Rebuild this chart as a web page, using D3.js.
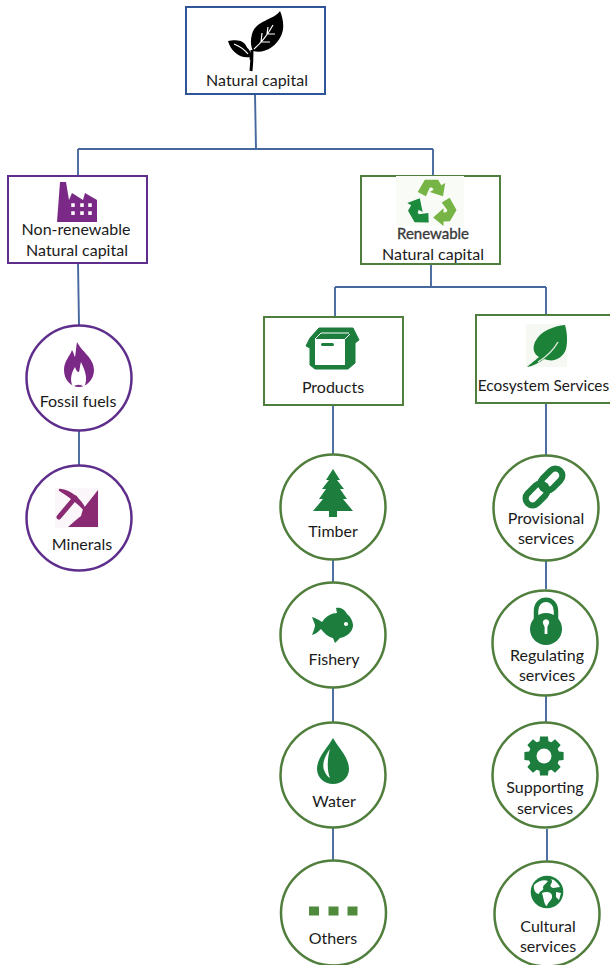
<!DOCTYPE html>
<html><head><meta charset="utf-8">
<style>html,body{margin:0;padding:0;background:#fff;overflow:hidden}svg{display:block}text{font-family:Lato,"Open Sans",sans-serif;font-size:16px;fill:#1a1a1a;text-anchor:middle}</style>
<script src="https://cdn.jsdelivr.net/npm/d3@7"></script></head><body>
<script>
// ---- content ----
const rootLabels=["Natural capital"];
const branchLabels=[["Non-renewable","Natural capital"],["Renewable","Natural capital"]];
const groupLabels=[["Products"],["Ecosystem Services"]];
const fossilSide=[["Fossil fuels"],["Minerals"]];
const productItems=[["Timber"],["Fishery"],["Water"],["Others"]];
const serviceItems=[["Provisional","services"],["Regulating","services"],["Supporting","services"],["Cultural","services"]];

// ---- layout (separate from content) ----
const C={blue:"#2f5597",line:"#46689f",purple:"#5f2f8c",green:"#507e3c",icon:"#1a7d3d",lime:"#76b544",plum:"#7a2a86",mag:"#8a2a72"};
const boxW=139;
const boxes=[
 {l:rootLabels,x:186,y:7,h:87,c:C.blue,ic:"leaf",ix:255,iy:40,t:[[257,86]]},
 {l:branchLabels[0],x:8,y:176,h:87,c:C.purple,ic:"factory",ix:77,iy:202,t:[[76,235],[77,256]]},
 {l:branchLabels[1],x:361,y:176,h:88,c:C.green,ic:"recycle",ix:432,iy:204,t:[[433,239,"#3a3a3a",15,.35],[433,260]]},
 {l:groupLabels[0],x:264,y:317,h:88,c:C.green,ic:"box",ix:333,iy:348,t:[[333,393]]},
 {l:groupLabels[1],x:476,y:315,h:88,c:C.green,ic:"greenleaf",ix:546,iy:345,t:[[543.5,391,"#1a1a1a",15.4]]}
];
const circles=[
 {l:fossilSide[0],cx:79,cy:378,c:C.purple,ic:"flame",ix:79,iy:365,t:[[78,407]]},
 {l:fossilSide[1],cx:79,cy:518,c:C.purple,ic:"minerals",ix:77,iy:508,t:[[82,550]]},
 {l:productItems[0],cx:333,cy:507,c:C.green,ic:"tree",ix:333,iy:493,t:[[333,537]]},
 {l:productItems[1],cx:333,cy:635,c:C.green,ic:"fish",ix:333,iy:625,t:[[334,665]]},
 {l:productItems[2],cx:333,cy:775,c:C.green,ic:"drop",ix:333,iy:761,t:[[334,807]]},
 {l:productItems[3],cx:333.5,cy:913,c:C.green,ic:"dots",ix:333.5,iy:911,t:[[333,944]]},
 {l:serviceItems[0],cx:546,cy:508,c:C.green,ic:"chain",ix:544,iy:487,t:[[546,524],[546,544]]},
 {l:serviceItems[1],cx:545,cy:643,c:C.green,ic:"lock",ix:546,iy:622,t:[[547,661],[547,681]]},
 {l:serviceItems[2],cx:545,cy:775,c:C.green,ic:"gear",ix:544,iy:756,t:[[545,793],[545,814]]},
 {l:serviceItems[3],cx:547,cy:914,c:C.green,ic:"globe",ix:547,iy:892,t:[[548,932],[548,952]]}
];
const connectors=[
 [[255,94],[256,149]],[[78,149],[433,149]],[[78,149],[78,176]],[[433,149],[433,176]],
 [[78,263],[79,325]],[[79,431],[79,465]],
 [[431,264],[431,287]],[[335,287],[546,287]],[[335,287],[335,317]],[[546,287],[546,315]],
 [[333,405],[333,454]],[[333,560],[333,582]],[[333,688],[333,722]],[[333,828],[333,860]],
 [[546,403],[546,455]],[[546,561],[546,589]],[[546,696],[546,722]],[[547,829],[547,861]]
];

// ---- icon glyphs, drawn around a local origin ----
const gearPath=(()=>{const n=8,p=[],R=20,r=15.5;for(let i=0;i<n;i++){const a=i*2*Math.PI/n-Math.PI/2,w=.2,g=.29;
 [[r,a-g],[R,a-w],[R,a+w],[r,a+g]].forEach(([q,b])=>p.push([q*Math.cos(b),q*Math.sin(b)]));}
 return d3.line()(p)+"Z";})();
const icons={
 leaf:g=>{
  g.append("path").attr("d","M-3,10 C-3,17 -3,22 -4,31").attr("fill","none").attr("stroke","#000").attr("stroke-width",3);
  g.append("path").attr("d","M-11,7 C-6,10 -4,14 -4,20").attr("fill","none").attr("stroke","#000").attr("stroke-width",2.4);
  g.append("path").attr("d","M25,-29 C19,-20 1,-20 -3,-6 C-5,1 -4,7 -2,11 C9,14 21,7 26,-4 C30,-12 28,-22 25,-29Z").attr("fill","#000");
  g.append("path").attr("d","M-27,1 C-22,0 -14,-1 -10,4 C-7,8 -6,13 -5,17 C-14,19 -24,12 -27,1Z").attr("fill","#000");
  g.append("path").attr("d","M-1,9 C6,3 13,-6 18,-15 M6,2 L7,-7 M6,2 L15,2 M12,-6 L13,-13 M12,-6 L20,-6 M-21,4 C-16,6 -11,9 -7,14").attr("fill","none").attr("stroke","#fff").attr("stroke-width",1.2);
 },
 factory:g=>{
  g.append("path").attr("d","M-20,20 L-17,-20 L-11,-20 L-8,-2 L-5,-9 L6,-2 L8,-9 L20,-2 L20,20Z").attr("fill",C.plum);
  [-4,5,13].forEach(x=>[3,11].forEach(y=>g.append("rect").attr("x",x-1.75).attr("y",y-1.75).attr("width",3.5).attr("height",3.7).attr("fill","#fff")));
 },
 recycle:g=>{
  g.append("rect").attr("x",-36).attr("y",-28).attr("width",68).attr("height",50).attr("fill","#f9fbf7");
  const a="M-13,-11 L-6.5,-22 L5.5,-22 L8.5,-17 L12,-19 L10,-7 L-2,-11 L1.5,-13 L0,-15 L-2,-15 L-5.5,-7Z";
  [[0,C.lime],[120,C.lime],[240,"#1a8a3c"]].forEach(([r,c])=>g.append("path").attr("d",a).attr("fill",c).attr("transform",`rotate(${r}) scale(1.1)`));
 },
 box:g=>{
  g.append("path").attr("d","M-14,-20 L20,-20 L26,-8 L22,-5 L22,15 L15,21 L-18,21 L-23,17 L-23,0 L-27,-2 L-23,-10Z").attr("fill",C.icon).attr("stroke",C.icon).attr("stroke-linejoin","round").attr("stroke-width",1);
  g.append("rect").attr("x",-18).attr("y",-9).attr("width",30).attr("height",26).attr("fill","#fff");
  g.append("path").attr("d","M-18,-9 L-12,-15 M-12,-15 L16,-15 M12,-9 L17,-14").attr("stroke","#fff").attr("stroke-width",1).attr("fill","none");
  g.append("rect").attr("x",-12).attr("y",-5).attr("width",13).attr("height",3).attr("rx",1.5).attr("fill",C.icon);
 },
 greenleaf:g=>{
  g.append("rect").attr("x",-20).attr("y",-21).attr("width",41).attr("height",43).attr("fill","#f6f8f4");
  g.append("path").attr("d","M19,-20 C8,-19 -6,-14 -11,-3 C-14,4 -12,9 -7,12 C-13,17 -17,20 -19,22 C-12,21 -6,17 -2,14 C8,18 17,13 20,4 C22,-4 21,-13 19,-20Z").attr("fill","#1e8237");
  g.append("path").attr("d","M-8,17 C0,12 7,6 12,-3").attr("fill","none").attr("stroke","#dfeadf").attr("stroke-width",1.4);
 },
 flame:g=>{
  g.append("path").attr("d","M-2,-23 C3,-13 15,-7 15,5 C15,15 7,22 0,22 C-8,22 -15,15 -15,5 C-15,-4 -9,-9 -7,-15 C-5,-12 -5,-9 -4,-8 C-3,-13 -3,-18 -2,-23Z").attr("fill",C.plum);
  g.append("path").attr("d","M-6,22 C-10,14 -7,7 -4,2 C-3,5 -2,7 0,7 C1,3 1,0 2,-3 C5,4 10,13 5,22 C2,19 -3,19 -6,22Z").attr("fill","#fff");
 },
 minerals:g=>{
  g.append("rect").attr("x",-22).attr("y",-20).attr("width",44).attr("height",40).attr("fill","#faf6f9");
  g.append("path").attr("d","M21,-18 L21,19 L-9,19 L-1,12 L4,8 L6,1 Z").attr("fill",C.mag);
  g.append("path").attr("d","M-17,-18 C-7,-17 3,-9 8,2 C1,-6 -9,-13 -17,-18Z").attr("fill",C.mag).attr("stroke",C.mag).attr("stroke-width",2.5).attr("stroke-linejoin","round");
  g.append("path").attr("d","M-2,-10 L-18,9").attr("stroke",C.mag).attr("stroke-width",5).attr("stroke-linecap","round");
 },
 tree:g=>{
  g.append("path").attr("d","M0,-24 L7,-13 L4,-13 L11,-4 L7,-4 L14,6 L10,6 L20,18 L4,18 L4,24 L-4,24 L-4,18 L-20,18 L-10,6 L-14,6 L-7,-4 L-11,-4 L-4,-13 L-7,-13Z").attr("fill",C.icon);
 },
 fish:g=>{
  g.append("path").attr("d","M-21,-8 C-17,-7 -14,-5 -11,-3 C-7,-9 -1,-12 4,-12 L3,-17 C8,-18 12,-15 14,-11 C18,-8 20,-3 20,1 C19,8 13,12 7,13 L2,18 L0,13 C-5,12 -9,8 -12,4 C-15,7 -17,9 -21,10 C-19,5 -18,2 -18,0 C-19,-3 -20,-5 -21,-8Z").attr("fill",C.icon);
  g.append("circle").attr("cx",13).attr("cy",-1).attr("r",2.1).attr("fill","#fff");
 },
 drop:g=>{
  g.append("path").attr("d","M0,-23 C4,-15 16,-4 16,8 C16,17 8,23 0,23 C-8,23 -16,17 -16,8 C-16,-4 -4,-15 0,-23Z").attr("fill",C.icon);
  g.append("path").attr("d","M-3,-12 C-9,-4 -11,4 -9,9 C-7,14 -5,16 -3,17 C-6,10 -6,-2 -3,-12Z").attr("fill","#fff");
 },
 dots:g=>{[-19.5,0,19].forEach(x=>g.append("rect").attr("x",x-5).attr("y",-4.5).attr("width",10).attr("height",9).attr("fill","#4f8a3c"));},
 chain:g=>{
  [[7.5,-7.5],[-7.5,7.5]].forEach(([x,y])=>g.append("rect").attr("x",-12.5).attr("y",-7).attr("width",25).attr("height",14).attr("rx",7).attr("fill","none").attr("stroke",C.icon).attr("stroke-width",6.2).attr("transform",`translate(${x},${y}) rotate(-45)`));
 },
 lock:g=>{
  g.append("path").attr("d","M-10,-2 L-10,-11 C-10,-26 10,-26 10,-11 L10,-2").attr("fill","none").attr("stroke",C.icon).attr("stroke-width",4.5);
  g.append("circle").attr("cx",0).attr("cy",7).attr("r",16).attr("fill",C.icon);
  g.append("path").attr("d","M-2.8,2 A3.2,3.2 0 1 1 2.8,2 L1.4,5 L1.4,12 L-1.4,12 L-1.4,5Z").attr("fill","#fff");
 },
 gear:g=>{
  g.append("path").attr("d",gearPath).attr("fill",C.icon);
  g.append("circle").attr("r",7.5).attr("fill","#fff");
 },
 globe:g=>{
  g.append("circle").attr("r",16.3).attr("fill",C.icon);
  g.append("path").attr("d","M-13,-7 C-9,-11 -3,-13 1,-11 C-1,-8 -4,-7 -4,-4 C-2,-2 -8,-1 -8,2 C-11,2 -14,-2 -13,-7Z M-5,1 C-1,-1 5,0 5,4 C6,8 1,9 0,14 C-3,13 -3,7 -5,1Z M4,-13 C8,-12 11,-9 13,-5 C9,-5 7,-3 4,-5 C2,-8 7,-9 4,-13Z M9,0 L14,1 L12,8 L9,5Z").attr("fill","#fff");
 }
};

// ---- drawing ----
const svg=d3.select("body").append("svg").attr("width",610).attr("height",965);
const defs=svg.append("defs");
defs.append("filter").attr("id","soft").attr("x","-10%").attr("y","-10%").attr("width","120%").attr("height","120%").append("feGaussianBlur").attr("stdDeviation",0.35);
const chart=svg.append("g").attr("filter","url(#soft)");
const line=d3.line();
chart.append("g").selectAll("path").data(connectors).join("path").attr("d",d=>line(d)).attr("fill","none").attr("stroke",C.line).attr("stroke-width",1.9);

chart.append("g").selectAll("rect").data(boxes).join("rect").attr("x",d=>d.x).attr("y",d=>d.y).attr("width",boxW).attr("height",d=>d.h).attr("fill","#fff").attr("stroke",d=>d.c).attr("stroke-width",2);
chart.append("g").selectAll("circle").data(circles).join("circle").attr("cx",d=>d.cx).attr("cy",d=>d.cy).attr("r",52.5).attr("fill","#fff").attr("stroke",d=>d.c).attr("stroke-width",2.5);

const nodes=[...boxes,...circles];
chart.append("g").selectAll("g").data(nodes).join("g").attr("transform",d=>`translate(${d.ix},${d.iy})`).each(function(d){icons[d.ic](d3.select(this));});

svg.append("g").selectAll("g").data(nodes).join("g").each(function(d){
  d3.select(this).selectAll("text").data(d.l.map((s,i)=>({s,p:d.t[i]}))).join("text")
   .attr("x",e=>e.p[0]).attr("y",e=>e.p[1]).text(e=>e.s)
   .style("fill",e=>e.p[2]||null).style("font-size",e=>e.p[3]?e.p[3]+"px":null)
   .style("stroke",e=>e.p[4]?e.p[2]:null).style("stroke-width",e=>e.p[4]||null);
});
</script></body></html>
